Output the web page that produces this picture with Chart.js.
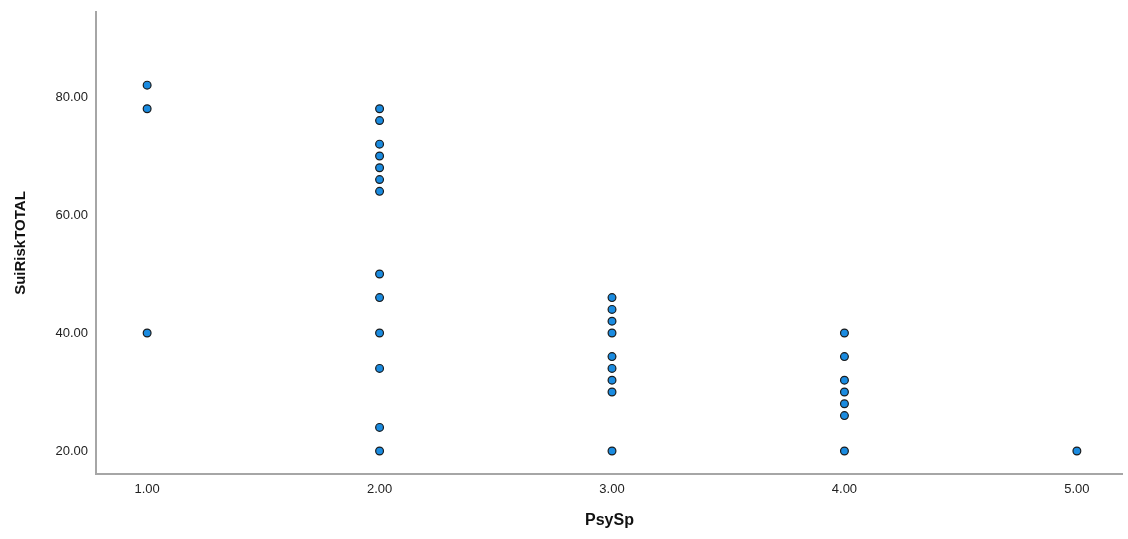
<!DOCTYPE html>
<html>
<head>
<meta charset="utf-8">
<script src="https://cdn.jsdelivr.net/npm/chart.js@4"></script>
<style>
html, body { margin: 0; padding: 0; background: #fff; }
#wrap { width: 1128px; height: 539px; position: relative; }
</style>
</head>
<body>
<div id="wrap"><canvas id="myChart"></canvas></div>
<script>
// PsySp groups and SuiRiskTOTAL values
var psy_1 = [82, 78, 40]
var psy_2 = [78, 76, 72, 70, 68, 66, 64, 50, 46, 40, 34, 24, 20]
var psy_3 = [46, 44, 42, 40, 36, 34, 32, 30, 20]
var psy_4 = [40, 36, 32, 30, 28, 26, 20]
var psy_5 = [20]

var x_ticks = [1, 2, 3, 4, 5]
var y_ticks = [20, 40, 60, 80]

var groups = [psy_1, psy_2, psy_3, psy_4, psy_5]
var points = []
groups.forEach(function (vals, i) {
  vals.forEach(function (v) {
    points.push({ x: x_ticks[i], y: v })
  })
})

const ctx = document.getElementById('myChart');
var font = "'Liberation Sans', Arial, sans-serif"

new Chart(ctx, {
  type: 'scatter',
  data: {
    datasets: [{
      label: 'SuiRiskTOTAL',
      data: points,
      pointRadius: 3.9,
      pointHoverRadius: 3.9,
      backgroundColor: '#1a8be0',
      borderColor: '#1b1b1b',
      borderWidth: 1.2
    }]
  },
  options: {
    responsive: true,
    maintainAspectRatio: false,
    animation: false,
    layout: { padding: { top: 12, right: 0, left: 0, bottom: 0 } },
    plugins: { legend: { display: false }, tooltip: { enabled: false } },
    scales: {
      x: {
        type: 'linear',
        min: 0.78,
        max: 5.198,
        grid: { display: false },
        border: { display: true, color: '#a6a6a6', width: 2 },
        afterBuildTicks: function (scale) {
          scale.ticks = x_ticks.map(function (v) { return { value: v } })
        },
        afterFit: function (scale) { scale.height = 65 },
        ticks: {
          padding: 0,
          color: '#222',
          font: { family: font, size: 13 },
          callback: function (v) { return Number(v).toFixed(2) }
        },
        title: {
          display: true,
          text: 'PsySp',
          color: '#111',
          font: { family: font, size: 16, weight: 'bold' },
          padding: { top: 0, bottom: 9 }
        }
      },
      y: {
        type: 'linear',
        min: 16.1,
        max: 94.4,
        grid: { display: false },
        border: { display: true, color: '#a6a6a6', width: 2 },
        afterBuildTicks: function (scale) {
          scale.ticks = y_ticks.map(function (v) { return { value: v } })
        },
        afterFit: function (scale) { scale.width = 96 },
        ticks: {
          padding: 0,
          color: '#222',
          font: { family: font, size: 13 },
          callback: function (v) { return Number(v).toFixed(2) }
        },
        title: {
          display: true,
          text: 'SuiRiskTOTAL',
          color: '#111',
          font: { family: font, size: 15, weight: 'bold' },
          padding: { top: 12, bottom: 0 }
        }
      }
    }
  }
});
</script>
</body>
</html>
